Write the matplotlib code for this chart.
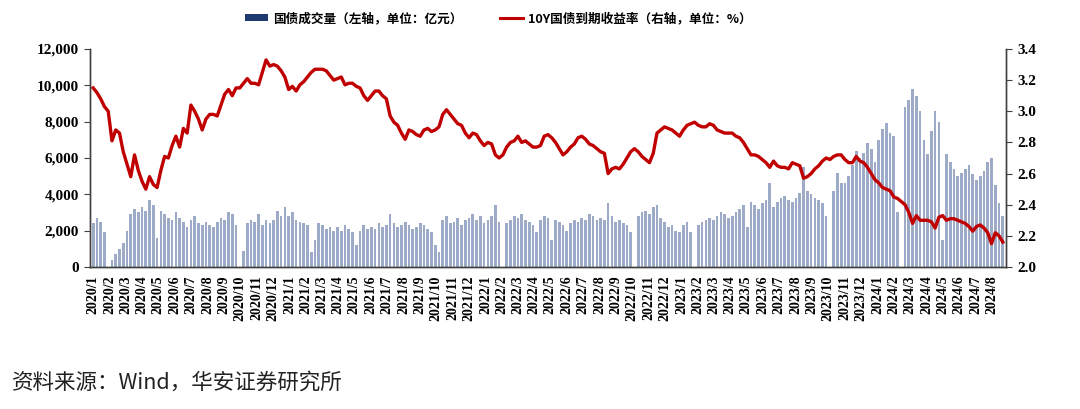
import matplotlib
matplotlib.use('Agg')
import matplotlib.pyplot as plt
from matplotlib.patches import Patch
from matplotlib.lines import Line2D
from matplotlib.ticker import FuncFormatter, MultipleLocator
import pandas as pd

plt.rcParams['font.family'] = ['Noto Sans CJK SC', 'DejaVu Sans']
plt.rcParams['axes.unicode_minus'] = False

# weekly readings (week ending Friday), 2020-01-03 .. 2024-08-23
vol_2020 = [2400, 2700, 2500, 1900, 0,
            400, 700, 1000, 1300,
            2000, 2900, 3200, 3000,
            3300, 3100, 3700, 3400,
            1600, 3100, 2900, 2700, 2600,
            3000, 2700, 2500, 2200,
            2600, 2800, 2400, 2300, 2500,
            2300, 2200, 2500, 2700,
            2600, 3000, 2900, 2300,
            0, 900, 2400, 2600, 2500,
            2900, 2300, 2600, 2400,
            2600, 3100, 2800, 3300]
vol_2021 = [2800, 3000, 2600, 2500, 2400,
            2300, 800, 1500, 2400,
            2300, 2100, 2200, 2000,
            2200, 2000, 2300, 2100, 1900,
            1200, 2000, 2300, 2100,
            2200, 2100, 2400, 2200,
            2300, 2900, 2400, 2200, 2300,
            2500, 2300, 2100, 2200,
            2400, 2300, 2100, 1900,
            1200, 800, 2600, 2800, 2400,
            2500, 2700, 2300, 2600,
            2700, 2900, 2600, 2800, 2400]
vol_2022 = [2600, 2800, 3400, 2500,
            0, 2400, 2600, 2800,
            2700, 2900, 2600, 2500,
            2300, 1900, 2600, 2800, 2700,
            1500, 2600, 2500, 2300,
            2000, 2400, 2600, 2500,
            2700, 2600, 2900, 2800, 2600,
            2700, 2600, 3500, 2800,
            2500, 2600, 2400, 2300, 1900,
            0, 2800, 3000, 3100,
            2900, 3300, 3400, 2700,
            2500, 2200, 2300, 2000, 1900]
vol_2023 = [2300, 2500, 1900, 0,
            2300, 2500, 2600, 2700,
            2600, 2800, 3000, 2900, 2700,
            2800, 3000, 3200, 3400,
            2200, 3600, 3400, 3200,
            3500, 3700, 4600, 3300, 3600,
            3800, 3900, 3700, 3600,
            3800, 4100, 5500, 4200,
            4000, 3800, 3700, 3500, 2800,
            0, 4200, 5200, 4600,
            4600, 5000, 5600, 6400,
            6000, 6300, 6800, 6500, 5800]
vol_2024 = [7000, 7600, 7900, 7400,
            7200, 3000, 0, 8800,
            9200, 9800, 9400, 8600, 7000,
            6200, 7500, 8600, 8000,
            1500, 6200, 5800, 5400, 5000,
            5200, 5400, 5600, 5100,
            4800, 5000, 5300, 5800,
            6000, 4500, 3500, 2800]

ytm_2020 = [3.15, 3.12, 3.08, 3.03, 3.00,
            2.81, 2.88, 2.86, 2.74,
            2.66, 2.58, 2.72, 2.62,
            2.55, 2.50, 2.58, 2.53,
            2.51, 2.62, 2.71, 2.70, 2.78,
            2.84, 2.77, 2.89, 2.86,
            3.04, 3.00, 2.95, 2.88, 2.95,
            2.98, 2.98, 2.97, 3.04,
            3.11, 3.14, 3.10, 3.15,
            3.15, 3.18, 3.21, 3.18, 3.18,
            3.17, 3.25, 3.33, 3.29,
            3.30, 3.29, 3.26, 3.22]
ytm_2021 = [3.14, 3.16, 3.13, 3.17, 3.19,
            3.22, 3.25, 3.27, 3.27,
            3.27, 3.26, 3.23, 3.20,
            3.21, 3.22, 3.17, 3.18, 3.18,
            3.16, 3.15, 3.10, 3.07,
            3.10, 3.13, 3.13, 3.10,
            3.08, 2.97, 2.93, 2.91, 2.86,
            2.82, 2.88, 2.87, 2.85,
            2.84, 2.88, 2.89, 2.87,
            2.88, 2.90, 2.98, 3.01, 2.98,
            2.95, 2.92, 2.91, 2.86,
            2.83, 2.86, 2.85, 2.81, 2.78]
ytm_2022 = [2.80, 2.79, 2.72, 2.70,
            2.72, 2.77, 2.80, 2.81,
            2.84, 2.80, 2.81, 2.79,
            2.77, 2.77, 2.78, 2.84, 2.85,
            2.83, 2.80, 2.76, 2.72,
            2.74, 2.77, 2.79, 2.83,
            2.84, 2.82, 2.79, 2.78, 2.76,
            2.74, 2.73, 2.60, 2.63,
            2.64, 2.63, 2.66, 2.70, 2.74,
            2.76, 2.74, 2.71, 2.69,
            2.67, 2.73, 2.86, 2.88,
            2.90, 2.89, 2.88, 2.86, 2.84]
ytm_2023 = [2.88, 2.91, 2.92, 2.93,
            2.91, 2.90, 2.90, 2.92,
            2.91, 2.88, 2.87, 2.86, 2.86,
            2.86, 2.84, 2.83, 2.80,
            2.76, 2.72, 2.72, 2.71,
            2.69, 2.67, 2.64, 2.68, 2.65,
            2.64, 2.64, 2.63, 2.67,
            2.66, 2.65, 2.57, 2.58,
            2.60, 2.63, 2.65, 2.68, 2.70,
            2.69, 2.71, 2.72, 2.72,
            2.69, 2.67, 2.67, 2.71,
            2.68, 2.67, 2.64, 2.60, 2.56]
ytm_2024 = [2.54, 2.51, 2.50, 2.49,
            2.45, 2.44, 2.42, 2.40,
            2.35, 2.28, 2.33, 2.30, 2.30,
            2.30, 2.29, 2.25, 2.32,
            2.33, 2.30, 2.31, 2.31, 2.30,
            2.29, 2.28, 2.26, 2.23,
            2.26, 2.27, 2.25, 2.22,
            2.15, 2.22, 2.20, 2.16]

volume = vol_2020 + vol_2021 + vol_2022 + vol_2023 + vol_2024
ytm = ytm_2020 + ytm_2021 + ytm_2022 + ytm_2023 + ytm_2024
weeks = pd.date_range('2020-01-03', '2024-08-23', freq='W-FRI')
assert len(weeks) == len(volume) == len(ytm)
dates = weeks - pd.Timedelta(days=2)

month_ticks = pd.date_range('2020-01-01', '2024-08-01', freq='MS')
month_labels = [f'{d.year}/{d.month}' for d in month_ticks]

bar_label = '国债成交量（左轴，单位：亿元）'
line_label = '10Y国债到期收益率（右轴，单位：%）'
source_text = '资料来源：Wind，华安证券研究所'

navy = '#1F3A70'
red = '#C00000'
axis_col = '#404040'
num_font = dict(family='Liberation Serif', weight='bold')

fig = plt.figure(figsize=(10.8, 4.09), dpi=100)
ax = fig.add_axes([0.0833, 0.3472, 0.9315 - 0.0833, 0.8802 - 0.3472])
ax2 = ax.twinx()

ax.bar(dates, volume, width=5.0, color='#9DABC9', linewidth=0)
ax2.plot(dates, ytm, color=red, linewidth=2.4, solid_joinstyle='round')

ax.set_xlim(pd.Timestamp('2019-12-26'), pd.Timestamp('2024-08-27'))
ax.set_ylim(0, 12000)
ax.yaxis.set_major_locator(MultipleLocator(2000))
ax.yaxis.set_major_formatter(FuncFormatter(lambda v, p: f'{int(v):,}'))
ax2.set_ylim(2.0, 3.4)
ax2.yaxis.set_major_locator(MultipleLocator(0.2))
ax2.yaxis.set_major_formatter(FuncFormatter(lambda v, p: f'{v:.1f}'))

ax.set_xticks(month_ticks)
ax.set_xticklabels(month_labels, rotation=90, fontsize=10, **num_font)
ax.tick_params(axis='x', length=0, pad=6)
ax.tick_params(axis='y', direction='out', length=4, color=axis_col, pad=4)
ax2.tick_params(axis='y', direction='out', length=4, color=axis_col, pad=4)
for lab in ax.get_yticklabels() + ax2.get_yticklabels():
    lab.set_fontsize(11)
    lab.set_fontfamily('Liberation Serif')
    lab.set_fontweight('bold')

for a in (ax, ax2):
    a.spines['top'].set_visible(False)
    for s in ('left', 'right', 'bottom'):
        a.spines[s].set_color(axis_col)
        a.spines[s].set_linewidth(1.0)

handles = [Patch(facecolor=navy, edgecolor='none'),
           Line2D([0], [0], color=red, linewidth=2.2)]
fig.legend(handles, [bar_label, line_label], loc='center', bbox_to_anchor=(0.4616, 0.954),
           ncol=2, frameon=False, handlelength=1.8, handleheight=0.45,
           handletextpad=0.4, columnspacing=3.0,
           prop=dict(family=['Noto Sans CJK SC', 'DejaVu Sans'], size=9.1, weight='bold'))

fig.text(0.011, 0.064, source_text, fontsize=15.5, color='#222222', va='center', ha='left')

fig.savefig('out.png', dpi=100)
